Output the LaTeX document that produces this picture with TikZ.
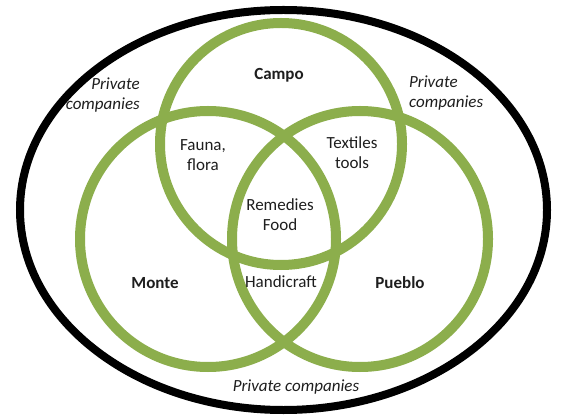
\documentclass[tikz,border=0pt]{standalone}
\usepackage{fontspec}
\setmainfont{Carlito}
\definecolor{venngreen}{RGB}{140,174,76}
\definecolor{txt}{RGB}{30,30,30}
\begin{document}
\begin{tikzpicture}[x=1pt,y=-1pt,
  ring/.style={draw=venngreen,line width=10pt},
  outer/.style={draw=black,line width=8pt},
  lbl/.style={text=txt,font=\fontsize{17}{20}\selectfont,inner sep=0pt,align=center},
  head/.style={lbl,font=\fontsize{17}{20}\selectfont\bfseries},
  priv/.style={lbl,font=\fontsize{17}{20}\selectfont\itshape}]
\useasboundingbox (0,0) rectangle (561,419);
\fill[white] (0,0) rectangle (561,419);
\draw[outer] (283.5,210) ellipse[x radius=263.5pt,y radius=200pt];
\draw[ring] (281,144) circle[radius=121pt];
\draw[ring] (208,239) circle[radius=128pt];
\draw[ring] (360,239) circle[radius=128pt];
\node[head] (campo) at (279,75) {Campo};
\node[head] (monte) at (155,283) {Monte};
\node[head] (pueblo) at (400,283) {Pueblo};
\node[lbl] (fauna) at (203,155) {Fauna,\\flora};
\node[lbl] (textiles) at (352,153) {Textiles\\tools};
\node[lbl] (remedies) at (280,215) {Remedies\\Food};
\node[lbl] (handi) at (281,282) {Handicraft};
\node[priv,align=right,anchor=east] (pcl) at (140,95) {Private\\companies};
\node[priv,align=left,anchor=west] (pcr) at (409,93) {Private\\companies};
\node[priv] (pcb) at (296,387) {Private companies};
\end{tikzpicture}
\end{document}
